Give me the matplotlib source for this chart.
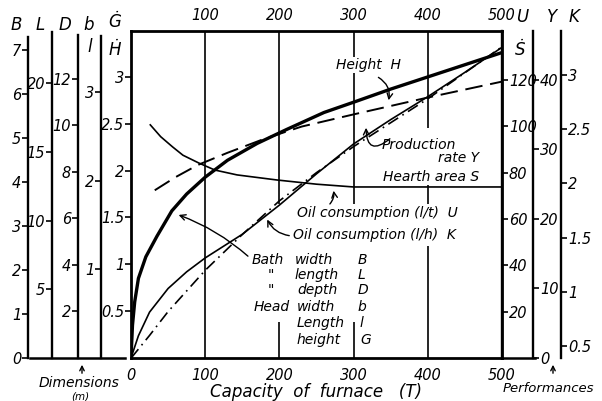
import matplotlib
matplotlib.use('Agg')
import matplotlib.pyplot as plt
from matplotlib.patches import Rectangle

plt.rcParams['font.family'] = ['DejaVu Sans']
plt.rcParams['font.style'] = 'italic'

# capacity of furnace (T) vs. the curves
cap_G = [0, 2, 5, 10, 20, 35, 55, 75, 100, 130, 170, 210, 260, 300, 350, 400, 450, 500]
head_height_G = [0, 0.35, 0.6, 0.85, 1.08, 1.3, 1.57, 1.75, 1.93, 2.11, 2.29, 2.44, 2.62, 2.73, 2.87, 3.00, 3.13, 3.26]

cap_H = [32, 60, 90, 130, 180, 230, 300, 400, 500]
height_H = [1.79, 1.93, 2.06, 2.19, 2.34, 2.47, 2.60, 2.78, 2.95]

cap_Y = [0, 10, 25, 50, 75, 100, 150, 200, 250, 300, 350, 400, 450, 500]
production_Y = [0, 3.2, 6.6, 10.0, 12.4, 14.4, 17.8, 22.0, 26.5, 30.8, 34.3, 37.6, 41.1, 44.7]

cap_K = [0, 25, 50, 100, 150, 200, 250, 300, 350, 400, 450, 500]
oil_K = [0.39, 0.60, 0.82, 1.20, 1.53, 1.84, 2.10, 2.34, 2.56, 2.78, 3.02, 3.26]

cap_U = [26, 40, 56, 70, 91, 113, 143, 197, 250, 300, 400, 500]
oil_U = [100.6, 95.5, 91.1, 87.5, 84.2, 81.1, 79.0, 76.8, 75.0, 73.8, 73.8, 73.8]

# scales
grid_cap = [100, 200, 300, 400]
bottom_ticks = [0, 100, 200, 300, 400, 500]
top_ticks = [100, 200, 300, 400, 500]
gh_ticks = [0.5, 1, 1.5, 2, 2.5, 3]
us_ticks = [20, 40, 60, 80, 100, 120]
y_ticks = [0, 10, 20, 30, 40]
k_ticks = [0.5, 1, 1.5, 2, 2.5, 3]
b_ticks = [0, 1, 2, 3, 4, 5, 6, 7]
l_ticks = [5, 10, 15, 20]
d_ticks = [2, 4, 6, 8, 10, 12]
bl_ticks = [1, 2, 3]

W, H = 602, 401
L0, R0, T0, B0 = 131, 502, 31, 358


def fx(px):
    return px / W


def fy(py):
    return 1 - py / H


def afx(px):
    return (px - L0) / (R0 - L0)


def pa(px, py):
    return (afx(px), (B0 - py) / (B0 - T0))


fig = plt.figure(figsize=(6.02, 4.01), dpi=100)
ax = fig.add_axes([fx(L0), fy(B0), fx(R0) - fx(L0), fy(T0) - fy(B0)])
ax.set_xlim(0, 500)
ax.set_ylim(0, 3.49)
for sp in ax.spines.values():
    sp.set_linewidth(2)
ax.vlines(grid_cap, 0, 3.49, color='black', lw=1.2, zorder=1)

ax.set_yticks(gh_ticks, [f'{t:g}' for t in gh_ticks])
ax.set_xticks(bottom_ticks, [f'{t:g}' for t in bottom_ticks])
ax.tick_params(axis='y', direction='out', length=4, width=1.2, pad=1, labelsize=10.5)
ax.tick_params(axis='x', length=0, pad=7, labelsize=10.5)
top = ax.secondary_xaxis('top')
top.set_xticks(top_ticks, [f'{t:g}' for t in top_ticks])
top.tick_params(length=0, pad=6, labelsize=10.5)
top.spines['top'].set_visible(False)


def scale(pos_px, lo, hi, ticks, side, bound=None):
    s = ax.twinx()
    s.set_ylim(lo, hi)
    for sp in s.spines.values():
        sp.set_visible(False)
    sp = s.spines[side]
    sp.set_visible(True)
    sp.set_linewidth(1.7)
    if pos_px is not None:
        sp.set_position(('axes', afx(pos_px)))
    if bound is not None:
        sp.set_bounds(lo, bound)
    if side == 'left':
        s.yaxis.tick_left()
    s.set_yticks(ticks, [f'{t:g}' for t in ticks])
    s.tick_params(axis='y', direction='out', length=4, width=1.2, pad=1, labelsize=10.5)
    return s


# left dimension scales (B, L, D, b/l)
scale(28, 0, 7.43, b_ticks, 'left', bound=7.3)
scale(52, 0, 23.8, l_ticks, 'left', bound=23.7)
scale(78, 0, 14.06, d_ticks, 'left', bound=13.9)
scale(101, 0, 3.69, bl_ticks, 'left', bound=3.63)

# right performance scales (U/S, Y, K)
axU = scale(None, 0, 141.1, us_ticks, 'right')
axY = scale(533, 0, 47.05, y_ticks, 'right')
axK = scale(561, 0.392, 3.405, k_ticks, 'right')

# curves
ax.plot(cap_G, head_height_G, color='black', lw=2.4, zorder=3)
ax.plot(cap_H, height_H, color='black', lw=1.4, ls=(0, (9, 4)), zorder=3)
axY.plot(cap_Y, production_Y, color='black', lw=1.2)
axK.plot(cap_K, oil_K, color='black', lw=1.2, ls=(0, (7, 3, 1, 3)))
axU.plot(cap_U, oil_U, color='black', lw=1.2)

# bottom base lines outside the frame
ax.plot([afx(30), afx(125)], [0, 0], transform=ax.transAxes, clip_on=False, color='black', lw=1.8)
ax.plot([1, afx(535)], [0, 0], transform=ax.transAxes, clip_on=False, color='black', lw=1.8)

# white areas behind the label block
for x0, y0, x1, y1 in [(276, 204, 470, 246), (276, 246, 372, 322), (395, 128, 495, 185)]:
    ax.add_patch(Rectangle(pa(x0, y1), afx(x1) - afx(x0), (y1 - y0) / (B0 - T0),
                           transform=ax.transAxes, fc='white', ec='none', zorder=1.5))

box = dict(fc='white', ec='none', pad=1)
labels = [
    (336, 65, 'Height  H'),
    (382, 145, 'Production'),
    (438, 158, 'rate Y'),
    (383, 177, 'Hearth area S'),
    (297, 213, 'Oil consumption (l/t)  U'),
    (293, 235, 'Oil consumption (l/h)  K'),
    (252, 260, 'Bath'), (295, 260, 'width'), (358, 260, 'B'),
    (268, 275, '"'), (295, 275, 'length'), (358, 275, 'L'),
    (268, 290, '"'), (297, 290, 'depth'), (358, 290, 'D'),
    (254, 307, 'Head'), (297, 307, 'width'), (358, 307, 'b'),
    (297, 323, 'Length'), (360, 323, 'l'),
    (297, 340, 'height'), (360, 340, 'G'),
]
for px, py, s in labels:
    ax.text(*pa(px, py), s, transform=ax.transAxes, ha='left', va='center',
            fontsize=10, bbox=box, zorder=2.5)

arrows = [
    ((388, 103), (376, 76), -0.4),
    ((366, 125), (392, 137), -1.1),
    ((333, 188), (328, 206), 0.3),
    ((266, 217), (292, 236), -0.3),
    ((176, 214), (250, 258), 0.1),
]
for tip, tail, rad in arrows:
    ax.annotate('', xy=pa(*tip), xytext=pa(*tail), xycoords='axes fraction',
                arrowprops=dict(arrowstyle='->', lw=1, color='black',
                                connectionstyle=f'arc3,rad={rad}'), zorder=3)

# scale names around the frame
for px, py, s in [(16, 25, 'B'), (40, 25, 'L'), (65, 25, 'D'), (89, 25, 'b'),
                  (115, 22, 'Ġ'), (115, 50, 'Ḣ'), (90, 47, 'l'),
                  (522, 17, 'U'), (552, 17, 'Y'), (574, 17, 'K'), (520, 50, 'Ṡ')]:
    fig.text(fx(px), fy(py), s, ha='center', va='center', fontsize=12)

fig.text(fx(316), fy(392), 'Capacity  of  furnace   (T)', ha='center', va='center', fontsize=12)
fig.text(fx(79), fy(383), 'Dimensions', ha='center', va='center', fontsize=10)
fig.text(fx(80), fy(396.5), '(m)', ha='center', va='center', fontsize=7.5)
fig.text(fx(503), fy(388), 'Performances', ha='left', va='center', fontsize=9.5)
for px in (82, 553):
    fig.add_artist(matplotlib.patches.FancyArrowPatch(
        (fx(px), fy(376)), (fx(px), fy(362)), transform=fig.transFigure,
        arrowstyle='->', mutation_scale=8, lw=1, color='black'))

fig.savefig('out.png', dpi=100)
